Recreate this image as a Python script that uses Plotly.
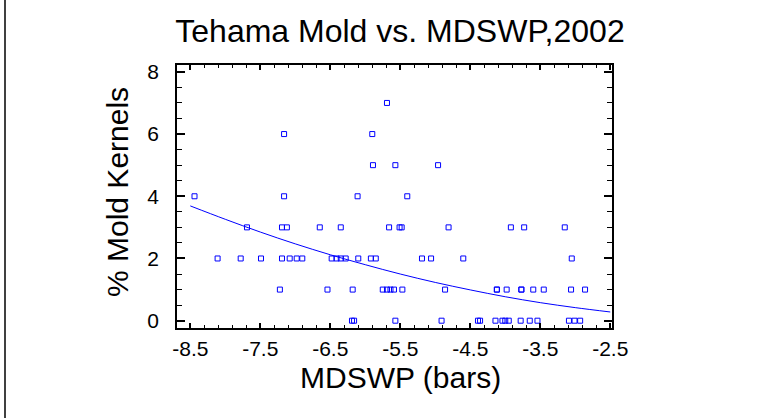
import plotly.graph_objects as go

# Scatter data (MDSWP in bars, % mold kernels)
mdswp = [
    -5.69,
    -7.16, -5.90,
    -5.89, -5.57, -4.96,
    -8.44, -7.16, -6.11, -5.40,
    -7.69, -7.19, -7.12, -6.65, -6.35, -5.66, -5.51, -5.48, -4.81, -3.92, -3.73, -3.15,
    -8.11, -7.78, -7.49, -7.19, -7.08, -6.98, -6.90, -6.48, -6.41, -6.35, -6.28, -6.10,
    -5.92, -5.85, -5.19, -5.06, -4.60, -3.05,
    -7.22, -6.54, -6.18, -5.75, -5.69, -5.64, -5.59, -5.47, -4.86, -4.12, -4.12, -3.98,
    -3.77, -3.77, -3.60, -3.45, -3.06, -2.86,
    -6.19, -6.16, -5.57, -4.91, -4.39, -4.36, -4.14, -4.04, -4.00, -3.95, -3.78, -3.65,
    -3.54, -3.09, -3.01, -2.93,
]
mold_pct = (
    [7] * 1
    + [6] * 2
    + [5] * 3
    + [4] * 4
    + [3] * 12
    + [2] * 18
    + [1] * 18
    + [0] * 16
)

# Fitted curve, values
fit_x = [-8.5, -8.0, -7.5, -7.0, -6.5, -6.0, -5.5, -5.0, -4.5, -4.0, -3.5, -3.0, -2.5]
fit_y = [3.69, 3.26, 2.85, 2.47, 2.12, 1.80, 1.50, 1.23, 0.99, 0.77, 0.58, 0.42, 0.28]

x_ticks = [-8.5, -7.5, -6.5, -5.5, -4.5, -3.5, -2.5]
y_ticks = [0, 2, 4, 6, 8]

title_text = "Tehama Mold vs. MDSWP,2002"
x_title = "MDSWP (bars)"
y_title = "% Mold Kernels"

W, H = 778, 418
ML, MR, MT, MB = 177, 166, 65, 90
PW, PH = W - ML - MR, H - MT - MB

font_family = "Liberation Sans, Arial, sans-serif"

fig = go.Figure()
fig.add_trace(go.Scatter(
    x=fit_x, y=fit_y, mode="lines", line=dict(color="#0000FF", width=1, shape="spline"),
    hoverinfo="skip", showlegend=False,
))
fig.add_trace(go.Scatter(
    x=mdswp, y=mold_pct, mode="markers",
    marker=dict(symbol="square-open", size=5, color="#0000FF", line=dict(width=1, color="#0000FF")),
    showlegend=False,
))

axis_common = dict(
    showgrid=False, zeroline=False, showline=True, linecolor="black", linewidth=1.5,
    mirror="allticks", ticks="inside", tickcolor="black",
    tickfont=dict(family=font_family, size=21, color="black"),
    automargin=False,
)

fig.update_xaxes(
    range=[-8.69, -2.475], tickmode="array", tickvals=x_ticks,
    ticktext=[f"{v:.1f}" for v in x_ticks], ticklen=5, tickwidth=1.5,
    minor=dict(ticks="inside", dtick=0.2, tick0=-8.5, ticklen=3, tickcolor="black", tickwidth=1),
    ticklabelstandoff=1,
    **axis_common,
)
fig.update_yaxes(
    range=[-0.235, 8.22], tickmode="array", tickvals=y_ticks,
    ticktext=[str(v) for v in y_ticks], ticklen=8, tickwidth=1.5,
    minor=dict(ticks="inside", dtick=0.5, tick0=0, ticklen=5, tickcolor="black", tickwidth=1),
    ticklabelstandoff=12,
    **axis_common,
)

fig.update_layout(
    width=W, height=H,
    margin=dict(l=ML, r=MR, t=MT, b=MB, pad=0),
    paper_bgcolor="white", plot_bgcolor="white",
    title=dict(text=title_text, x=400 / W, xanchor="center", xref="container",
               y=1 - 31 / H, yanchor="middle",
               font=dict(family=font_family, size=32, color="black")),
    annotations=[
        dict(text=x_title, xref="paper", yref="paper",
             x=(400 - ML) / PW, y=-(377 - (MT + PH)) / PH,
             xanchor="center", yanchor="middle", showarrow=False,
             font=dict(family=font_family, size=30, color="black")),
        dict(text=y_title, xref="paper", yref="paper",
             x=(117 - ML) / PW, y=1 - (192 - MT) / PH, textangle=-90,
             xanchor="center", yanchor="middle", showarrow=False,
             font=dict(family=font_family, size=30, color="black")),
    ],
    shapes=[
        dict(type="line", xref="paper", yref="paper",
             x0=(5 - ML) / PW, x1=(5 - ML) / PW, y0=-2, y1=2,
             line=dict(color="black", width=1.5)),
    ],
)

fig.write_html("out.html", config={"displayModeBar": False},
               post_script="document.body.style.margin='0';")
